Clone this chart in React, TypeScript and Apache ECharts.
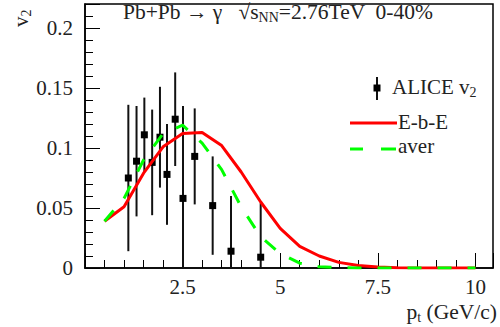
import React, { useEffect, useRef } from "react";
import * as echarts from "echarts";

// ALICE data points
const alicePt = [1.11, 1.32, 1.52, 1.72, 1.92, 2.1, 2.31, 2.51, 2.81, 3.27, 3.74, 4.5];
const aliceV2 = [0.075, 0.089, 0.111, 0.088, 0.109, 0.078, 0.124, 0.058, 0.093, 0.052, 0.014, 0.009];
const aliceErr = [0.061, 0.046, 0.031, 0.044, 0.042, 0.042, 0.039, 0.077, 0.04, 0.041, 0.046, 0.045];

// model curves
const curvePt = [0.5, 1, 1.5, 2, 2.5, 3, 3.5, 4, 4.5, 5, 5.5, 6, 6.5, 7, 7.5, 8, 8.5, 9, 9.5, 10];
const ebeV2 = [0.039, 0.051, 0.079, 0.101, 0.112, 0.113, 0.102, 0.08, 0.055, 0.033, 0.018, 0.01, 0.0047, 0.002, 0.0008, 0.0002, 0, 0, 0, 0];
const averV2 = [0.039, 0.058, 0.09, 0.112, 0.119, 0.104, 0.082, 0.051, 0.026, 0.012, 0.004, 0.001, 0.0003, 0, 0, 0, 0, 0, 0, 0];

const yTicks = ["0", "0.05", "0.1", "0.15", "0.2"];
const xTicks = ["", "2.5", "5", "7.5", "10"];

const FONT = "'Liberation Serif', 'DejaVu Serif', serif";

export default function App() {
  const ref = useRef<HTMLDivElement>(null);
  useEffect(() => {
    const chart = echarts.init(ref.current!, null, { renderer: "svg" });
    const sub = { fontSize: 14, fontFamily: FONT, color: "#222", padding: [11, 0, 0, 0] };
    const option: any = {
      animation: false,
      grid: {
        left: 85, top: 4, right: 7, bottom: 59,
        show: true, borderColor: "#000", borderWidth: 1.5,
      },
      xAxis: {
        type: "value", min: 0, max: 10.45, interval: 2.5,
        axisLine: { lineStyle: { color: "#000", width: 1.5 } },
        axisTick: { inside: true, length: 15, lineStyle: { color: "#000" } },
        minorTick: { show: true, splitNumber: 5, length: 8, lineStyle: { color: "#000" } },
        splitLine: { show: false },
        axisLabel: {
          showMaxLabel: false,
          formatter: (v: number) => xTicks[Math.round(v / 2.5)] ?? "",
          color: "#222", fontFamily: FONT, fontSize: 21, margin: 8,
        },
      },
      yAxis: {
        type: "value", min: 0, max: 0.22, interval: 0.05,
        axisLine: { lineStyle: { color: "#000", width: 1.5 } },
        axisTick: { inside: true, length: 15, lineStyle: { color: "#000" } },
        minorTick: { show: true, splitNumber: 5, length: 8, lineStyle: { color: "#000" } },
        splitLine: { show: false },
        axisLabel: {
          showMaxLabel: false,
          formatter: (v: number) => yTicks[Math.round(v / 0.05)] ?? "",
          color: "#222", fontFamily: FONT, fontSize: 21, margin: 12,
        },
      },
      series: [
        {
          type: "custom",
          z: 3,
          clip: true,
          data: alicePt.map((p, i) => [p, aliceV2[i], aliceErr[i]]),
          encode: { x: 0, y: 1 },
          renderItem: (params: any, api: any) => {
            const x = api.value(0), y = api.value(1), e = api.value(2);
            const t = api.coord([x, y + e]);
            const b = api.coord([x, Math.max(0, y - e)]);
            const c = api.coord([x, y]);
            return {
              type: "group",
              children: [
                { type: "line", shape: { x1: t[0], y1: t[1], x2: b[0], y2: b[1] }, style: { stroke: "#111", lineWidth: 2 } },
                { type: "rect", shape: { x: c[0] - 3.5, y: c[1] - 3.5, width: 7, height: 7 }, style: { fill: "#000" } },
              ],
            };
          },
        },
        {
          type: "line", z: 4, symbol: "none",
          data: curvePt.map((p, i) => [p, ebeV2[i]]),
          lineStyle: { color: "#ff0000", width: 3 },
        },
        {
          type: "line", z: 4, symbol: "none",
          data: curvePt.map((p, i) => [p, averV2[i]]),
          lineStyle: { color: "#00ff00", width: 3, type: [14, 16] },
        },
      ],
      graphic: [
        {
          type: "text", left: 123, top: 1,
          style: {
            text: "Pb+Pb \u2192 \u03b3   \u221as{sub|NN}=2.76TeV  0-40%",
            font: `21.5px ${FONT}`, fill: "#222",
            rich: { sub },
          },
        },
        {
          type: "text", x: 8, y: 27, rotation: Math.PI / 2,
          style: { text: "v{sub|2}", font: `21px ${FONT}`, fill: "#222", rich: { sub } },
        },
        {
          type: "text", right: 3, top: 301,
          style: { text: "p{sub|t} (GeV/c)", font: `21.5px ${FONT}`, fill: "#222", rich: { sub } },
        },
        // legend
        { type: "line", shape: { x1: 377, y1: 77, x2: 377, y2: 100 }, style: { stroke: "#111", lineWidth: 2 } },
        { type: "rect", shape: { x: 373.5, y: 84.5, width: 7, height: 7 }, style: { fill: "#000" } },
        {
          type: "text", left: 392, top: 76,
          style: { text: "ALICE v{sub|2}", font: `21px ${FONT}`, fill: "#222", rich: { sub } },
        },
        { type: "line", shape: { x1: 350, y1: 123, x2: 397, y2: 123 }, style: { stroke: "#ff0000", lineWidth: 3 } },
        { type: "text", left: 398, top: 111, style: { text: "E-b-E", font: `21px ${FONT}`, fill: "#222" } },
        { type: "line", shape: { x1: 350, y1: 149, x2: 363, y2: 149 }, style: { stroke: "#00ff00", lineWidth: 3 } },
        { type: "line", shape: { x1: 381, y1: 149, x2: 396, y2: 149 }, style: { stroke: "#00ff00", lineWidth: 3 } },
        { type: "text", left: 398, top: 135, style: { text: "aver", font: `21px ${FONT}`, fill: "#222" } },
      ],
    };
    chart.setOption(option);
    return () => chart.dispose();
  }, []);
  return <div ref={ref} style={{ width: 500, height: 327, position: "absolute", left: 0, top: 0 }} />;
}
